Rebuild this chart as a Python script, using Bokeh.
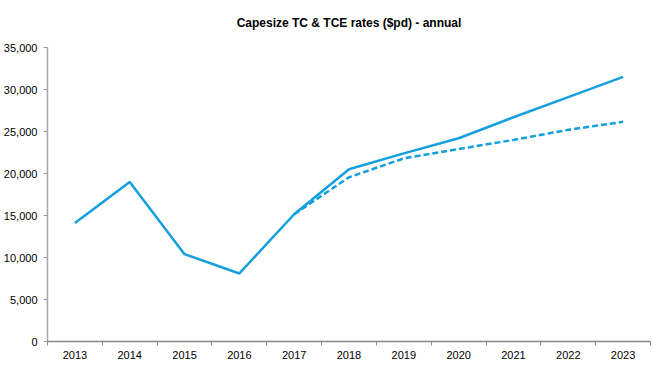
from bokeh.plotting import figure
from bokeh.models import Range1d, FixedTicker, NumeralTickFormatter, Title
from bokeh.embed import file_html
from bokeh.resources import INLINE

years = [2013, 2014, 2015, 2016, 2017, 2018, 2019, 2020, 2021, 2022, 2023]
tc_rates = [14100, 19000, 10400, 8100, 15150, 20500, 22400, 24200, 26700, 29100, 31500]
tce_years = [2017, 2018, 2019, 2020, 2021, 2022, 2023]
tce_rates = [15150, 19550, 21800, 22900, 24000, 25200, 26150]
y_ticks = [0, 5000, 10000, 15000, 20000, 25000, 30000, 35000]

FONT = "Liberation Sans"
BLUE = "#149FDD"

p = figure(width=654, height=361, output_backend="svg", toolbar_location=None,
           x_range=Range1d(2012.5, 2023.5), y_range=Range1d(0, 35000),
           min_border_top=0, min_border_right=4, min_border_bottom=0, min_border_left=4)
p.add_layout(Title(text="Capesize TC & TCE rates ($pd) - annual", align="center",
                   vertical_align="top",
                   text_font=FONT, text_font_size="12px", text_font_style="bold",
                   text_color="#000000", standoff=31), "above")

p.line(years, tc_rates, line_color=BLUE, line_width=2.5)
p.line(tce_years, tce_rates, line_color=BLUE, line_width=2.5, line_dash="6 3")

p.xgrid.visible = False
p.ygrid.visible = False
p.outline_line_color = None

xa = p.xaxis[0]
xa.ticker = FixedTicker(ticks=years, minor_ticks=[y + 0.5 for y in [2012] + years])
xa.major_tick_out = 0
xa.major_tick_in = 0
xa.minor_tick_out = 4
xa.minor_tick_in = 0
xa.minor_tick_line_color = "#888888"
xa.axis_line_color = "#888888"
xa.axis_line_width = 1.5
xa.major_label_text_font = FONT
xa.major_label_text_font_size = "11px"
xa.major_label_text_color = "#000000"
xa.major_label_standoff = 5

ya = p.yaxis[0]
ya.ticker = FixedTicker(ticks=y_ticks)
ya.formatter = NumeralTickFormatter(format="0,0")
ya.major_tick_out = 4
ya.major_tick_in = 0
ya.minor_tick_out = 0
ya.minor_tick_in = 0
ya.major_tick_line_color = "#999999"
ya.axis_line_color = "#A6A6A6"
ya.axis_line_width = 1.5
ya.major_label_text_font = FONT
ya.major_label_text_font_size = "11px"
ya.major_label_text_color = "#000000"
ya.major_label_standoff = 6

open("out.html", "w").write(file_html(p, INLINE))
